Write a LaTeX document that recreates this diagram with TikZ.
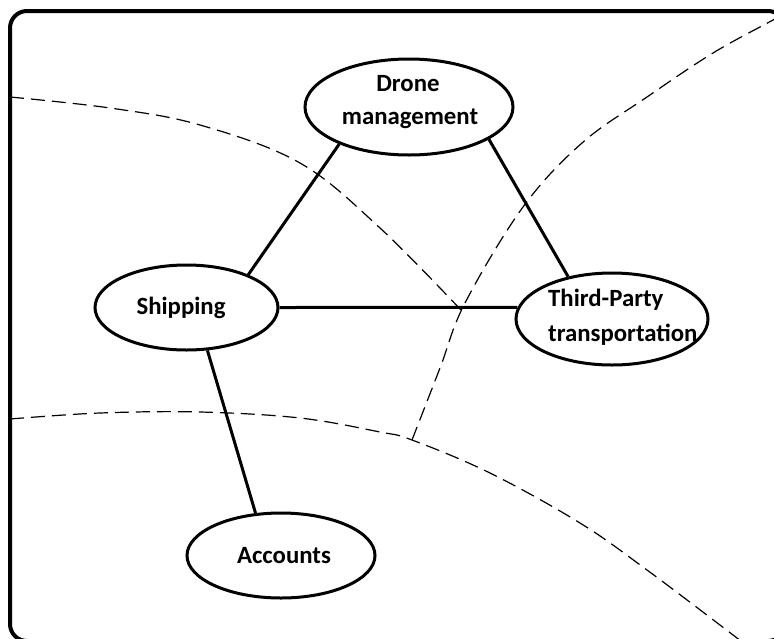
\documentclass[tikz,border=0pt]{standalone}
\usepackage{fontspec}
\setmainfont{Carlito}
\usetikzlibrary{shapes.geometric}
\begin{document}
\begin{tikzpicture}[x=1pt,y=-1pt,
  frame/.style={line width=4pt, rounded corners=17pt},
  zone/.style={line width=1.2pt, dash pattern=on 14pt off 7pt},
  entity/.style={ellipse, draw, fill=white, line width=3pt, inner sep=0pt},
  link/.style={line width=3pt},
  lbl/.style={font=\fontsize{24.8}{30}\selectfont\bfseries, inner sep=0pt, anchor=base}]
\useasboundingbox (0,0) rectangle (774,638);
\begin{scope}
  \clip (0,0) rectangle (774,638);
  % outer frame, running past the right and bottom edges
  \draw[frame] (10,11) rectangle (785,641);
  % dashed zone boundaries
  \draw[zone] plot[smooth, tension=0.6] coordinates
    {(10,97) (110,108) (200,125) (300,163) (380,228) (461,310)};
  \draw[zone] plot[smooth, tension=0.6] coordinates
    {(412,440) (440,368) (465,303) (523,207) (582,143) (647,97) (713,53) (773,20) (800,5)};
  \draw[zone] plot[smooth, tension=0.6] coordinates
    {(10,419) (100,413) (200,412) (300,418) (380,432) (412,440) (490,473) (580,523) (647,570) (737,638) (760,656)};
\end{scope}

% entities
\node[entity, minimum width=208pt, minimum height=96pt] (drone) at (409,107) {};
\node[entity, minimum width=183pt, minimum height=85pt] (ship) at (186.5,307.5) {};
\node[entity, minimum width=192pt, minimum height=92pt] (third) at (612,319) {};
\node[entity, minimum width=188pt, minimum height=85pt] (acct) at (281,555.5) {};

% labels
\node[lbl] (drone-a) at (408,91.7) {Drone};
\node[lbl] (drone-b) at (410,124.3) {management};
\node[lbl] (ship-a) at (181,314) {Shipping};
\node[lbl, anchor=base west] (third-a) at (548,306.7) {Third-Party};
\node[lbl, anchor=base west] (third-b) at (548,341.7) {transportation};
\node[lbl] (acct-a) at (284,563) {Accounts};

% relations
\draw[link] (drone.208) -- (ship.28);
\draw[link] (drone.338) -- (third.136);
\draw[link] (ship.0) -- (third.173);
\draw[link] (ship.296) -- (acct.121);
\end{tikzpicture}
\end{document}
